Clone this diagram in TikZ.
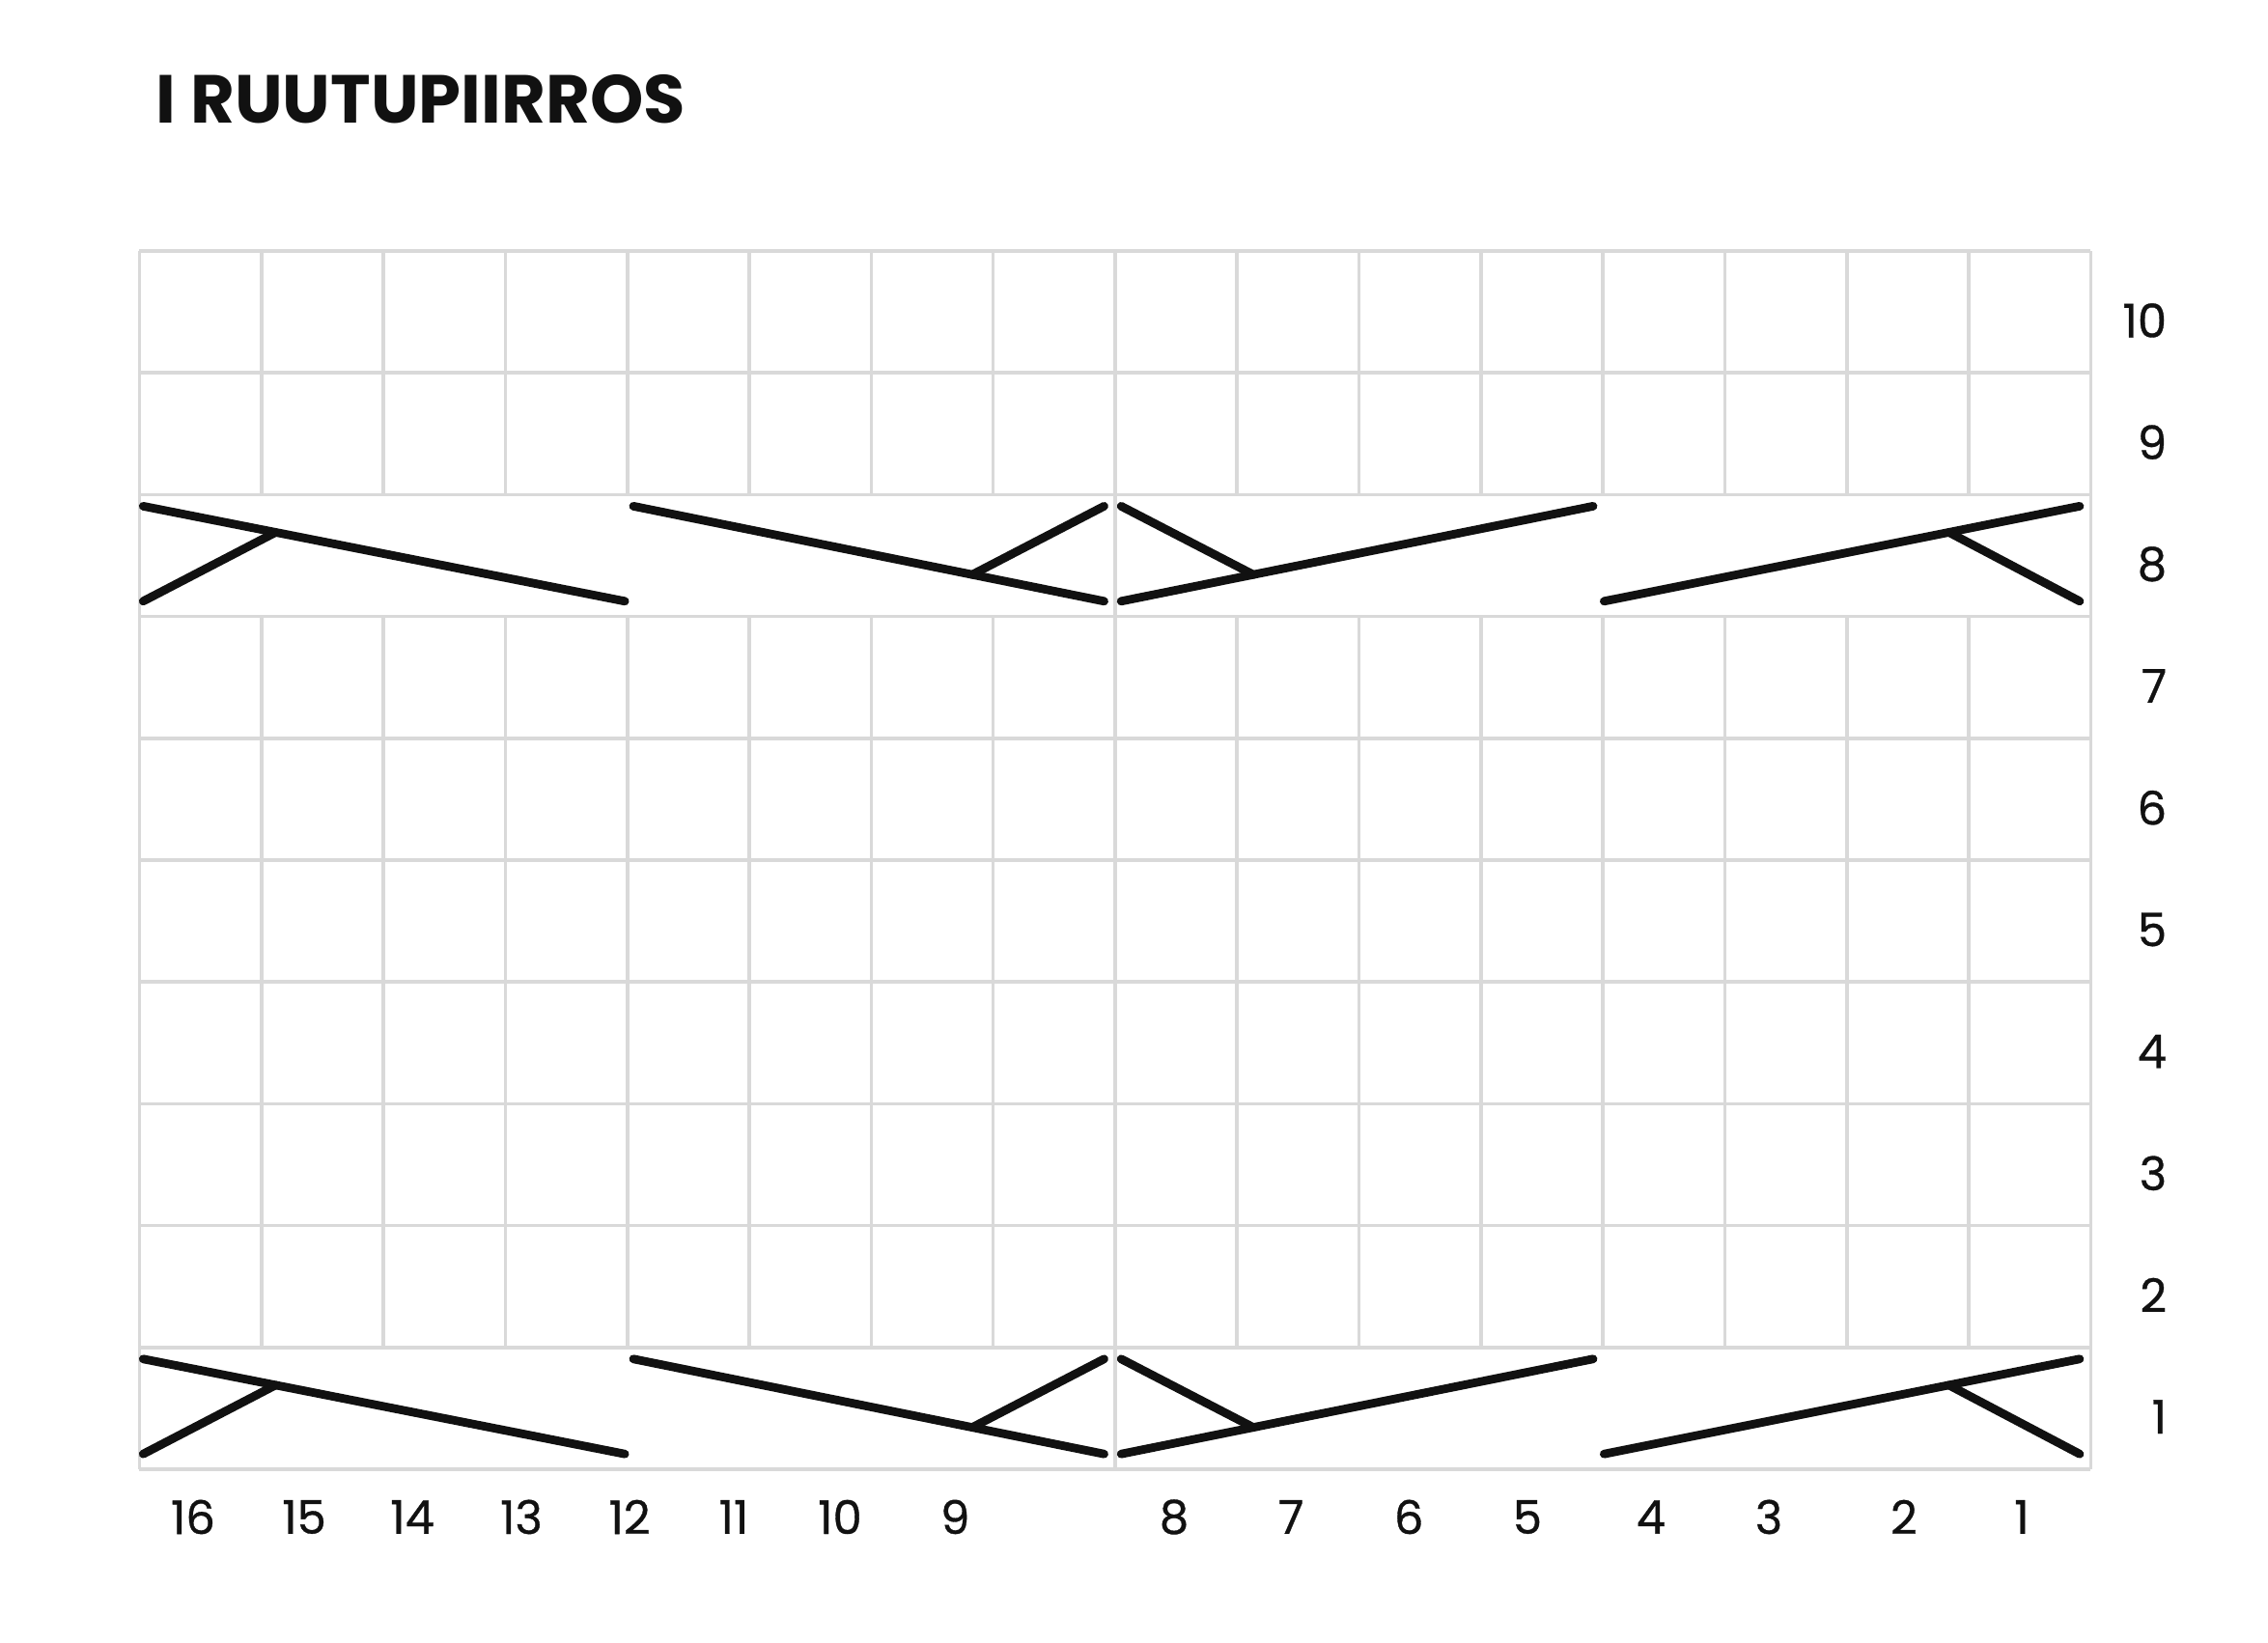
\documentclass[tikz,border=0pt]{standalone}
\usepackage{fontspec}
\setmainfont{Poppins}
\newfontfamily\numfont[FakeBold=0.7]{Poppins}
\usetikzlibrary{calc}
\definecolor{gridgray}{HTML}{D9D9D9}
\definecolor{inkblack}{HTML}{111111}
\begin{document}
\begin{tikzpicture}[x=31.575pt, y=31.55pt,
    gridline/.style={draw=gridgray, line width=0.9pt},
    stitch/.style={draw=inkblack, line width=2.2pt, line cap=round},
    collabel/.style={font=\numfont\fontsize{12}{12}\selectfont, inner sep=0pt, text=inkblack},
    rowlabel/.style={font=\numfont\fontsize{12}{12}\selectfont, inner sep=0pt, anchor=east, text=inkblack}]
 \useasboundingbox (-1.1441,-1.4263) rectangle (17.4545,12.0602);
    % Title
 \node[anchor=base west, inner sep=0pt, font=\fontsize{17.6}{17.6}\selectfont\bfseries, text=inkblack] (title) at (0.13,11.046) {I RUUTUPIIRROS};
    % Grid
 \foreach \r in {0,...,10}
    \draw[gridline] (0,\r) -- (16,\r);
 \foreach \c in {0,8,16}
    \draw[gridline] (\c,0) -- (\c,10);
 \foreach \c in {1,...,7,9,10,...,15} {
    \draw[gridline] (\c,1) -- (\c,7);
    \draw[gridline] (\c,8) -- (\c,10);
 }
    % Cables on rows 1 and 8
 \foreach \b in {0,7} {
    \coordinate (t) at (0,\b+0.905);
    \coordinate (u) at (0,\b+0.125);
    % block 16-13
    \draw[stitch] (0.03,0 |- t) -- (3.98,0 |- u);
    \draw[stitch] (0.03,0 |- u) -- ($(0.03,0 |- t)!0.275!(3.98,0 |- u)$);
    % block 12-9
    \draw[stitch] (4.05,0 |- t) -- (7.91,0 |- u);
    \draw[stitch] (7.91,0 |- t) -- ($(7.91,0 |- u)!0.28!(4.05,0 |- t)$);
    % block 8-5
    \draw[stitch] (8.05,0 |- u) -- (11.92,0 |- t);
    \draw[stitch] (8.05,0 |- t) -- ($(8.05,0 |- u)!0.28!(11.92,0 |- t)$);
    % block 4-1
    \draw[stitch] (12.01,0 |- u) -- (15.91,0 |- t);
    \draw[stitch] (15.91,0 |- u) -- ($(15.91,0 |- t)!0.275!(12.01,0 |- u)$);
 }
    % Stitch numbers
 \foreach \n/\x in {16/0.439, 15/1.350, 14/2.237, 13/3.131, 12/4.018, 11/4.873, 10/5.744, 9/6.688,
                    8/8.484, 7/9.443, 6/10.409, 5/11.381, 4/12.395, 3/13.361, 2/14.469, 1/15.435}
    \node[collabel] (s\n) at (\x,-0.392) {\n};
    % Row numbers
 \foreach \k in {1,...,10}
    \node[rowlabel] (r\k) at (16.63,\k-0.57) {\k};
\end{tikzpicture}
\end{document}
